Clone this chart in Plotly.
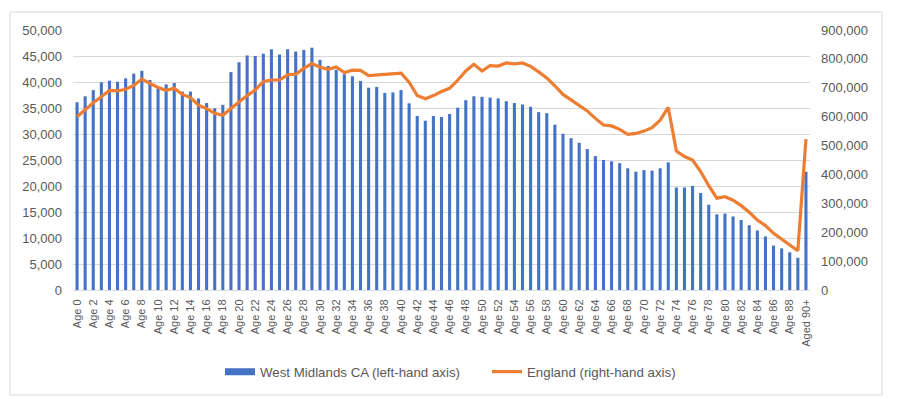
import plotly.graph_objects as go

ages = [f"Age {i}" for i in range(90)] + ["Aged 90+"]

west_midlands = [
    36100, 37250, 38450, 39950, 40250, 40050, 40700, 41600, 42150, 40400,
    38700, 39550, 39800, 38150, 38150, 36850, 35950, 34950, 35600, 41900,
    43800, 45100, 45000, 45450, 46300, 45300, 46300, 45850, 46150, 46600,
    44250, 43100, 42350, 41500, 41100, 40200, 38900, 39050, 37900, 38000,
    38450, 35900, 33450, 32550, 33450, 33250, 33850, 35050, 36500, 37250,
    37150, 37000, 36850, 36300, 35950, 35650, 35250, 34200, 34000, 31800,
    30050, 29200, 28300, 27100, 25750, 25000, 24750, 24400, 23400, 22750,
    23050, 22950, 23400, 24550, 19700, 19700, 20000, 18650, 16400, 14550,
    14700, 14150, 13450, 12450, 11450, 10300, 8550, 8000, 7250, 6200,
    22750,
]

england = [
    600000, 625000, 648000, 669000, 691000, 689000, 695000, 708000, 730000, 715000,
    701000, 691000, 698000, 677000, 666000, 640000, 628000, 612000, 605000, 628000,
    651000, 673000, 692000, 722000, 727000, 727000, 745000, 747000, 767000, 784000,
    771000, 764000, 772000, 753000, 761000, 760000, 742000, 744000, 745000, 748000,
    751000, 719000, 673000, 662000, 673000, 687000, 698000, 726000, 758000, 781000,
    758000, 777000, 775000, 786000, 783000, 786000, 774000, 755000, 734000, 707000,
    677000, 658000, 640000, 620000, 594000, 571000, 568000, 556000, 539000, 542000,
    550000, 562000, 588000, 632000, 481000, 462000, 450000, 410000, 361000, 318000,
    323000, 311000, 292000, 269000, 242000, 223000, 196000, 177000, 158000, 136000,
    522000,
]

left_ticks = list(range(0, 50001, 5000))
right_ticks = list(range(0, 900001, 100000))
x_ticks = ages[::2]

BLUE = "#4472C4"
ORANGE = "#ED7D31"
GRID = "#D9D9D9"
TXT = "#595959"
FONT = "Liberation Sans"

fig = go.Figure()
fig.add_trace(go.Bar(
    x=ages, y=west_midlands, marker_color=BLUE, marker_line_width=0,
    name="West Midlands CA (left-hand axis)", showlegend=False, yaxis="y",
))
# legend entry for bars (flat wide rectangle like the original)
fig.add_trace(go.Scatter(
    x=[None], y=[None], mode="lines", line=dict(color=BLUE, width=7),
    name="West Midlands CA (left-hand axis)", yaxis="y",
))
fig.add_trace(go.Scatter(
    x=ages, y=england, mode="lines", line=dict(color=ORANGE, width=3.2),
    name="England (right-hand axis)", yaxis="y2",
))

# page has an 8px body margin: figure drawn 8px right/down
W, H = 892, 391
L, R, T, B = 65, 90, 22, 109
pw, ph = W - L - R, H - T - B

fig.update_layout(
    width=W, height=H,
    margin=dict(l=L, r=R, t=T, b=B, autoexpand=False),
    paper_bgcolor="white", plot_bgcolor="white",
    font=dict(family=FONT, size=13, color=TXT),
    bargap=0.62,
    xaxis=dict(
        type="category", tickmode="array", tickvals=x_ticks, ticktext=x_ticks,
        tickangle=-90, tickfont=dict(size=11, color=TXT), ticks="",
        showgrid=False, showline=True, linecolor=GRID, linewidth=1,
        range=[-0.5, len(ages) - 0.5], automargin=False, ticklabelstandoff=4,
    ),
    yaxis=dict(
        range=[0, 50000], tickmode="array", tickvals=left_ticks,
        tickformat=",d", showgrid=True, gridcolor=GRID, gridwidth=1,
        zeroline=False, ticks="", ticklabelstandoff=10, automargin=False,
    ),
    yaxis2=dict(
        range=[0, 900000], tickmode="array", tickvals=right_ticks,
        tickformat=",d", overlaying="y", side="right", showgrid=False,
        zeroline=False, ticks="", ticklabelstandoff=10, automargin=False,
    ),
    legend=dict(
        orientation="h", x=(212 - L) / pw, xanchor="left", y=(282 - 364) / ph,
        yanchor="middle", font=dict(size=13.3, color=TXT),
        bgcolor="rgba(0,0,0,0)", itemclick=False,
        entrywidth=222, entrywidthmode="pixels",
    ),
    shapes=[dict(
        type="rect", xref="paper", yref="paper",
        x0=(2 - L) / pw, x1=(874 - L) / pw,
        y0=(282 - 387) / ph, y1=(282 - 4) / ph,
        line=dict(color=GRID, width=1), fillcolor="rgba(0,0,0,0)", layer="below",
    )],
)

fig.write_html("out.html")
